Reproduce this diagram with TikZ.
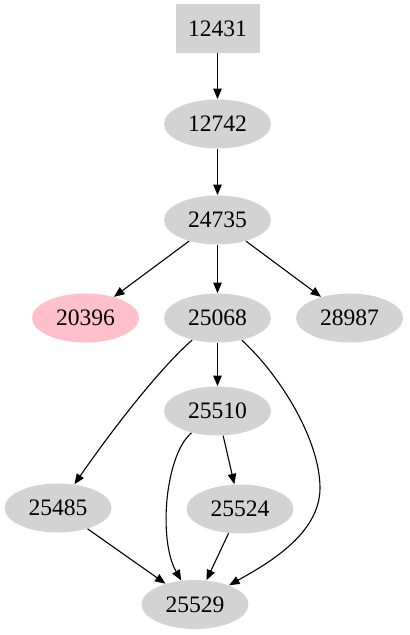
\documentclass[tikz,border=0pt]{standalone}
\usepackage{fontspec}
\setmainfont{Liberation Serif}
\usetikzlibrary{shapes.geometric,arrows.meta}

\definecolor{lightgrey}{HTML}{D3D3D3}
\definecolor{lightpink}{HTML}{FFC0CB}

\tikzset{
  graynode/.style={ellipse, fill=lightgrey, minimum width=53.5pt, minimum height=24.5pt, inner sep=0pt, font=\fontsize{11.8}{14}\selectfont},
  pinknode/.style={graynode, fill=lightpink},
  boxnode/.style={rectangle, fill=lightgrey, minimum width=42pt, minimum height=24.5pt, inner sep=0pt, font=\fontsize{11.8}{14}\selectfont},
  edge/.style={line width=0.55pt, -{Triangle[length=5.2pt,width=4.2pt]}}
}

\begin{document}
\begin{tikzpicture}[x=0.5pt,y=-0.5pt]  % one unit = one pixel of the reference

\useasboundingbox (0,0) rectangle (409,635);

% the root and the nodes of the graph
\node [boxnode] (n12431) at (217.5,28.5) {12431};
\node [pinknode] (n20396) at (85.5,318) {20396};

\def\nodelist{12742/217.5/124, 24735/217.5/220, 25068/217.5/318, 28987/349.5/318,
  25510/217.5/411, 25485/58/508, 25524/240/509, 25529/195/604.5}
\foreach \id/\px/\py in \nodelist
  \node [graynode] (n\id) at (\px,\py) {\id};

% straight connectors
\foreach \a/\b in {12431/12742, 12742/24735, 24735/20396, 24735/25068, 24735/28987,
  25068/25510, 25510/25524, 25485/25529, 25524/25529}
  \draw [edge] (n\a) -- (n\b);

% curved connectors
\draw [edge] (n25068) .. controls (160,368) and (112,430) .. (n25485);
\draw [edge] (n25510) .. controls (165,455) and (158,540) .. (n25529);
\draw [edge] (n25068) .. controls (280,375) and (320,440) .. (320,488)
  .. controls (320,535) and (265,565) .. (n25529);

\end{tikzpicture}
\end{document}
